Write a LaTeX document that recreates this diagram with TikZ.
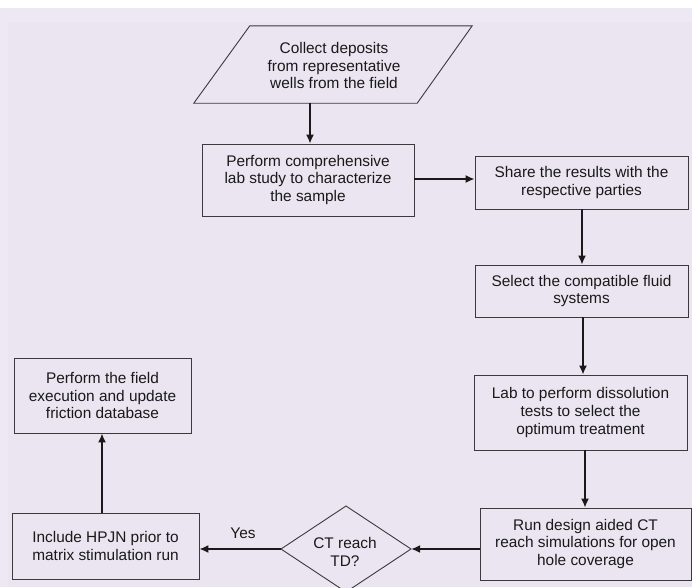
\documentclass[tikz,border=0pt]{standalone}
\usepackage{fontspec}
\setmainfont{Liberation Sans}
\usetikzlibrary{shapes.geometric,calc,arrows.meta}
\definecolor{bgA}{HTML}{EEE8F4}
\definecolor{bgB}{HTML}{EAE5F0}
\definecolor{edge}{HTML}{3A3A3A}
\begin{document}
\begin{tikzpicture}[x=1pt,y=-1pt,
  every node/.style={font=\fontsize{15.4}{17.7}\selectfont, text=black!90, align=center, inner sep=0pt},
  box/.style={draw=edge, line width=0.9pt, fill=bgB, rectangle},
  dia/.style={draw=edge, line width=0.9pt, fill=bgB, diamond, aspect=1.5},
  arr/.style={-{Latex[length=9pt,width=8pt]}, line width=1.5pt, draw=black!90}]
\useasboundingbox (0,0) rectangle (692,587);
\fill[white] (0,0) rectangle (692,587);
\fill[bgA] (0,8) rectangle (692,587);
\fill[bgB] (8,22) rectangle (692,587);

% parallelogram
\node (para) at (333,64.5) [minimum width=278pt, minimum height=77pt] {};
\draw[edge, line width=0.9pt, fill=bgB] (para.south west) -- ($(para.north west)+(56,0)$) -- (para.north east) -- ($(para.south east)+(-55,0)$) -- cycle;
\node at (334,65.5) {Collect deposits\\from representative\\wells from the field};

\node[box, minimum width=212pt, minimum height=72pt] (b1) at (308,180) {Perform comprehensive\\lab study to characterize\\the sample};
\node[box, minimum width=213pt, minimum height=53pt] (b2) at (581.5,182.5) {Share the results with the\\respective parties};
\node[box, minimum width=213pt, minimum height=52pt] (b3) at (581.5,291) {Select the compatible fluid\\systems};
\node[box, minimum width=213pt, minimum height=75pt] (b4) at (580.5,412.5) {Lab to perform dissolution\\tests to select the\\optimum treatment};
\node[box, minimum width=211pt, minimum height=72pt] (b5) at (585.5,544) {Run design aided CT\\reach simulations for open\\hole coverage};
\node[box, minimum width=187pt, minimum height=66pt] (b6) at (105.5,546) {Include HPJN prior to\\matrix stimulation run};
\node[box, minimum width=177pt, minimum height=75pt] (b7) at (102.5,395.5) {Perform the field\\execution and update\\friction database};

% diamond
\coordinate (dc) at (346,549);
\draw[edge, line width=0.9pt, fill=bgB] (281,549) -- (346,506) -- (411,549) -- (346,592) -- cycle;
\node (d) at (346,549) [minimum width=130pt, minimum height=86pt] {};
\node at (345,552) {CT reach\\TD?};
\node (yes) at (243,533) {Yes};

% connectors
\draw[arr] (para.south -| b1.north) ++(2,0) coordinate (pa) -- (pa |- b1.north);
\draw[arr] (b1.east |- 0,179) -- (b2.west |- 0,179);
\draw[arr] (b2.south -| 582,0) -- (b3.north -| 582,0);
\draw[arr] (b3.south -| 583,0) -- (b4.north -| 583,0);
\draw[arr] (b4.south -| 585,0) -- (b5.north -| 585,0);
\draw[arr] (b5.west |- dc) -- (d.east);
\draw[arr] (d.west) -- (b6.east |- dc);
\draw[arr] (b6.north -| 102,0) -- (b7.south -| 102,0);
\end{tikzpicture}
\end{document}
